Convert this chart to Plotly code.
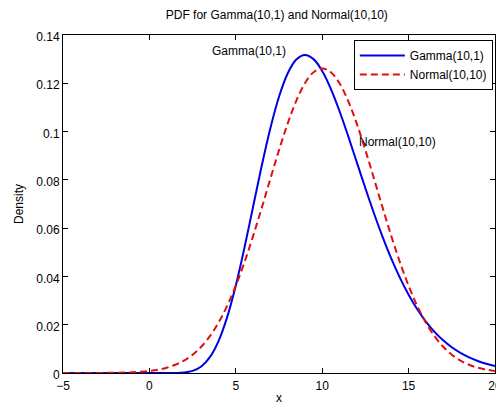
import plotly.graph_objects as go

x_vals = [-5, -4.5, -4, -3.5, -3, -2.5, -2, -1.5, -1, -0.5, 0, 0.5, 1, 1.5, 2, 2.5, 3, 3.5, 4, 4.5,
          5, 5.5, 6, 6.5, 7, 7.5, 8, 8.5, 9, 9.5, 10, 10.5, 11, 11.5, 12, 12.5, 13, 13.5, 14, 14.5,
          15, 15.5, 16, 16.5, 17, 17.5, 18, 18.5, 19, 19.5, 20]

gamma_pdf = [0, 0, 0, 0, 0, 0, 0, 0, 0, 0, 0, 0, 0.000001, 0.00002, 0.00019, 0.00086, 0.0027, 0.00656, 0.01323, 0.02316,
             0.03627, 0.05187, 0.06884, 0.08581, 0.10140, 0.11444, 0.12408, 0.12987, 0.13176, 0.13000,
             0.12511, 0.11772, 0.10853, 0.09820, 0.08736, 0.07651, 0.06605, 0.05627, 0.04734, 0.03938,
             0.03241, 0.02640, 0.02131, 0.01705, 0.01353, 0.01065, 0.00833, 0.00646, 0.00498, 0.00382, 0.00291]

normal_pdf = [0.0000016, 0.0000034, 0.0000070, 0.0000139, 0.000027, 0.000051, 0.000094, 0.000169, 0.000298, 0.000509,
              0.00085, 0.00138, 0.00220, 0.00340, 0.00514, 0.00758, 0.01089, 0.01526, 0.02085, 0.02780,
              0.03615, 0.04584, 0.05669, 0.06838, 0.08044, 0.09230, 0.10329, 0.11274, 0.12001, 0.12459,
              0.12616, 0.12459, 0.12001, 0.11274, 0.10329, 0.09230, 0.08044, 0.06838, 0.05669, 0.04584,
              0.03615, 0.02780, 0.02085, 0.01526, 0.01089, 0.00758, 0.00514, 0.00340, 0.00220, 0.00138, 0.00085]

series_names = ["Gamma(10,1)", "Normal(10,10)"]
title_text = "PDF for Gamma(10,1) and Normal(10,10)"

FONT = "Liberation Sans, Arial, sans-serif"

# page body has an 8px default margin, so the figure is sized to fit the 504x405 window
W, H = 496, 397

fig = go.Figure()
fig.add_trace(go.Scatter(x=x_vals, y=gamma_pdf, mode="lines", name=series_names[0],
                         line=dict(color="#0000e6", width=2, shape="spline")))
fig.add_trace(go.Scatter(x=x_vals, y=normal_pdf, mode="lines", name=series_names[1],
                         line=dict(color="#e01010", width=2, dash="7px,4px", shape="spline")))

fig.add_annotation(x=3.5, y=0.1334, text=series_names[0], showarrow=False,
                   xanchor="left", yanchor="middle", font=dict(size=12, color="black", family=FONT))
fig.add_annotation(x=12.0, y=0.0957, text=series_names[1], showarrow=False,
                   xanchor="left", yanchor="middle", font=dict(size=12, color="black", family=FONT))

axis_common = dict(showline=True, linecolor="black", linewidth=1, mirror="ticks",
                   ticks="inside", ticklen=5, tickcolor="black", showgrid=False, zeroline=False,
                   automargin=False,
                   tickfont=dict(size=12, color="black", family=FONT))

fig.update_layout(
    width=W, height=H,
    margin=dict(l=55, r=9, t=27, b=32),
    paper_bgcolor="white", plot_bgcolor="white",
    font=dict(family=FONT, size=12, color="black"),
    title=dict(text=title_text, x=0.542, xanchor="center", y=1 - 6.5 / H, yanchor="middle",
               font=dict(size=12, color="black", family=FONT)),
    xaxis=dict(range=[-5, 20], dtick=5, tick0=-5, ticklabelstandoff=2,
               title=dict(text="x", standoff=4, font=dict(size=12, family=FONT)), **axis_common),
    yaxis=dict(range=[0, 0.14], dtick=0.02, tick0=0, ticklabelshift=2,
               title=dict(text="Density", standoff=10, font=dict(size=12, family=FONT)), **axis_common),
    legend=dict(x=0.995, xanchor="right", y=0.985, yanchor="top",
                bgcolor="white", bordercolor="black", borderwidth=1,
                font=dict(size=12, color="black", family=FONT),
                itemwidth=45, tracegroupgap=0),
    showlegend=True,
)

fig.write_html("out.html")
